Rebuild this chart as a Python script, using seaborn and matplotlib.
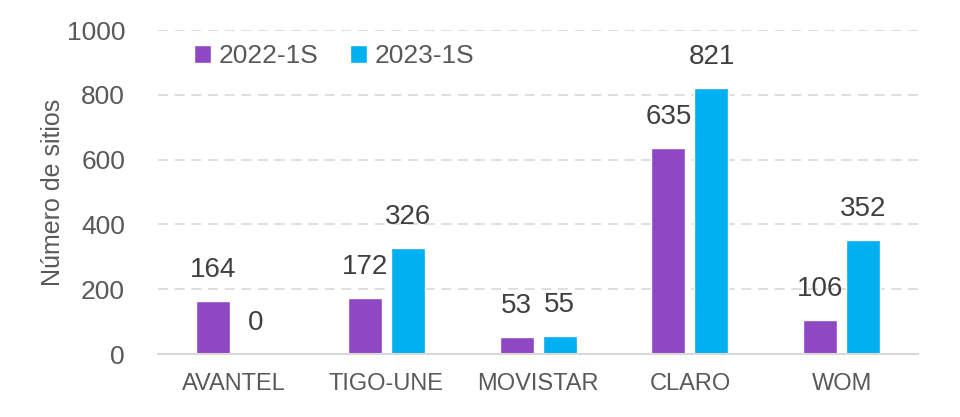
import matplotlib
matplotlib.use('Agg')
import matplotlib.pyplot as plt
import pandas as pd
import seaborn as sns

operators = ['AVANTEL', 'TIGO-UNE', 'MOVISTAR', 'CLARO', 'WOM']
periods = ['2022-1S', '2023-1S']
sites_2022 = [164, 172, 53, 635, 106]
sites_2023 = [0, 326, 55, 821, 352]

colors = {'2022-1S': '#8E48C4', '2023-1S': '#00B0F0'}
text_gray = '#595959'

df = pd.DataFrame({
    'Operador': operators * 2,
    'Periodo': [periods[0]] * len(operators) + [periods[1]] * len(operators),
    'Sitios': sites_2022 + sites_2023,
})

sns.set_style('white')
plt.rcParams['font.family'] = ['Liberation Sans Narrow', 'Liberation Sans', 'DejaVu Sans']

fig, ax = plt.subplots(figsize=(9.6, 4.17), dpi=100)
fig.subplots_adjust(left=0.165, right=0.956, bottom=0.151, top=0.928)

sns.barplot(data=df, x='Operador', y='Sitios', hue='Periodo', palette=colors,
            width=0.566, gap=0.21, ax=ax, saturation=1)

# value labels above each bar
for container in ax.containers:
    ax.bar_label(container, padding=13, fontsize=20, color='#404040')

ax.set_ylim(0, 1000)
ax.set_yticks(range(0, 1001, 200))
ax.set_xlim(-0.5, len(operators) - 0.5)
ax.yaxis.grid(True, linestyle=(0, (6, 4)), color='#D9D9D9', linewidth=1.2)
ax.set_axisbelow(True)
for side in ['top', 'right', 'left']:
    ax.spines[side].set_visible(False)
ax.spines['bottom'].set_color('#D9D9D9')
ax.spines['bottom'].set_linewidth(1.5)

ax.tick_params(axis='y', labelsize=19, labelcolor=text_gray, length=0, pad=24)
ax.tick_params(axis='x', labelsize=17, labelcolor=text_gray, length=0, pad=14)
ax.set_xlabel('')
ax.set_ylabel('Número de sitios', fontsize=18, color=text_gray, labelpad=1)

ax.legend(loc='upper left', bbox_to_anchor=(0.015, 1.03), ncol=2, frameon=False,
          fontsize=19, labelcolor=text_gray, handlelength=0.65, handleheight=0.65,
          handletextpad=0.3, columnspacing=1.2)

fig.savefig('out.png', dpi=100)
